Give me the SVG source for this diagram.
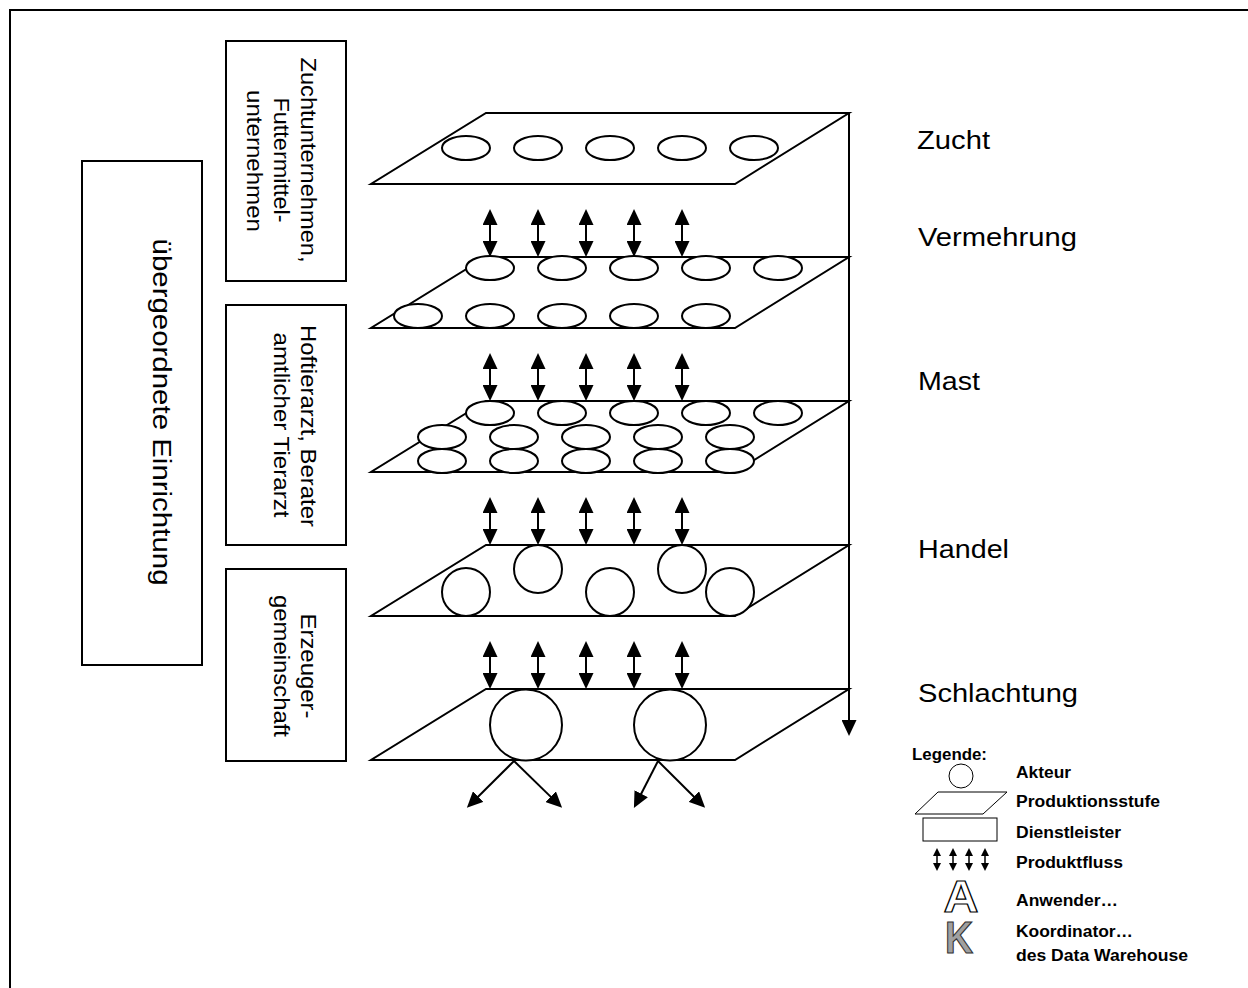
<svg xmlns="http://www.w3.org/2000/svg" width="1248" height="988" viewBox="0 0 1248 988">
<style>
.ln{fill:none;stroke:#000;stroke-width:2}
.pl{fill:#fff;stroke:#000;stroke-width:2;stroke-linejoin:miter}
.ac{fill:#fff;stroke:#000;stroke-width:2}
.box{fill:#fff;stroke:#000;stroke-width:2}
.t{font-family:"Liberation Sans",Arial,sans-serif;fill:#000}
.st{font-size:26px}
.sv{font-size:22px}
.lg{font-size:16px;font-weight:bold}
.lgs{fill:#fff;stroke:#000;stroke-width:1}
.big{font-family:"Liberation Sans",Arial,sans-serif;font-size:44px;font-weight:bold;stroke-width:1.2}
.arr{fill:none;stroke:#000;stroke-width:2;marker-start:url(#ah);marker-end:url(#ah)}
.arr1{fill:none;stroke:#000;stroke-width:2;marker-end:url(#ah)}
.sarr{fill:none;stroke:#000;stroke-width:1.5;marker-start:url(#sh);marker-end:url(#sh)}
</style>
<defs>
<marker id="ah" markerUnits="userSpaceOnUse" markerWidth="16" markerHeight="15" refX="2" refY="7.5" orient="auto-start-reverse" viewBox="0 0 16 15">
<path d="M0,0 L16,7.5 L0,15 z" fill="#000"/>
</marker>
<marker id="sh" markerUnits="userSpaceOnUse" markerWidth="8" markerHeight="8" refX="1" refY="4" orient="auto-start-reverse" viewBox="0 0 8 8">
<path d="M0,0 L8,4 L0,8 z" fill="#000"/>
</marker>
</defs>
<rect x="0" y="0" width="1248" height="988" fill="#fff"/>
<g id="frame"><rect x="10" y="10" width="1260" height="1000" class="ln"/></g>

<g id="uebergeordnete-einrichtung">
<rect x="82" y="161" width="120" height="504" class="box"/>
<text class="t st" transform="translate(153,412) rotate(90)" text-anchor="middle" textLength="347" lengthAdjust="spacingAndGlyphs">übergeordnete Einrichtung</text>
</g>

<g id="dienstleister-zucht">
<rect x="226" y="41" width="120" height="240" class="box"/>
<text class="t sv" transform="translate(301,160) rotate(90)" text-anchor="middle" textLength="205" lengthAdjust="spacingAndGlyphs">Zuchtunternehmen,</text>
<text class="t sv" transform="translate(274,160) rotate(90)" text-anchor="middle" textLength="125" lengthAdjust="spacingAndGlyphs">Futtermittel-</text>
<text class="t sv" transform="translate(247,161) rotate(90)" text-anchor="middle" textLength="142" lengthAdjust="spacingAndGlyphs">unternehmen</text>
</g>

<g id="dienstleister-tierarzt">
<rect x="226" y="305" width="120" height="240" class="box"/>
<text class="t sv" transform="translate(301,426) rotate(90)" text-anchor="middle" textLength="202" lengthAdjust="spacingAndGlyphs">Hoftierarzt, Berater</text>
<text class="t sv" transform="translate(274,425) rotate(90)" text-anchor="middle" textLength="185" lengthAdjust="spacingAndGlyphs">amtlicher Tierarzt</text>
</g>

<g id="dienstleister-erzeuger">
<rect x="226" y="569" width="120" height="192" class="box"/>
<text class="t sv" transform="translate(301,666) rotate(90)" text-anchor="middle" textLength="105" lengthAdjust="spacingAndGlyphs">Erzeuger-</text>
<text class="t sv" transform="translate(274,666) rotate(90)" text-anchor="middle" textLength="142" lengthAdjust="spacingAndGlyphs">gemeinschaft</text>
</g>

<g id="connectors">
<line x1="849" y1="113" x2="849" y2="722" class="arr1"/>
<g>
<line x1="490" y1="223" x2="490" y2="243" class="arr"/>
<line x1="538" y1="223" x2="538" y2="243" class="arr"/>
<line x1="586" y1="223" x2="586" y2="243" class="arr"/>
<line x1="634" y1="223" x2="634" y2="243" class="arr"/>
<line x1="682" y1="223" x2="682" y2="243" class="arr"/>
</g>
<g>
<line x1="490" y1="367" x2="490" y2="387" class="arr"/>
<line x1="538" y1="367" x2="538" y2="387" class="arr"/>
<line x1="586" y1="367" x2="586" y2="387" class="arr"/>
<line x1="634" y1="367" x2="634" y2="387" class="arr"/>
<line x1="682" y1="367" x2="682" y2="387" class="arr"/>
</g>
<g>
<line x1="490" y1="511" x2="490" y2="531" class="arr"/>
<line x1="538" y1="511" x2="538" y2="531" class="arr"/>
<line x1="586" y1="511" x2="586" y2="531" class="arr"/>
<line x1="634" y1="511" x2="634" y2="531" class="arr"/>
<line x1="682" y1="511" x2="682" y2="531" class="arr"/>
</g>
<g>
<line x1="490" y1="655" x2="490" y2="675" class="arr"/>
<line x1="538" y1="655" x2="538" y2="675" class="arr"/>
<line x1="586" y1="655" x2="586" y2="675" class="arr"/>
<line x1="634" y1="655" x2="634" y2="675" class="arr"/>
<line x1="682" y1="655" x2="682" y2="675" class="arr"/>
</g>
<line x1="514" y1="761" x2="476.8" y2="798" class="arr1"/>
<line x1="514" y1="761" x2="552.1" y2="798.1" class="arr1"/>
<line x1="658" y1="761" x2="640.3" y2="795.5" class="arr1"/>
<line x1="658" y1="761" x2="695.2" y2="798" class="arr1"/>
</g>

<g id="stufe-zucht">
<polygon points="486,113 849,113 735,184 371,184" class="pl"/>
<ellipse cx="466" cy="148" rx="24" ry="12" class="ac"/>
<ellipse cx="538" cy="148" rx="24" ry="12" class="ac"/>
<ellipse cx="610" cy="148" rx="24" ry="12" class="ac"/>
<ellipse cx="682" cy="148" rx="24" ry="12" class="ac"/>
<ellipse cx="754" cy="148" rx="24" ry="12" class="ac"/>
</g>

<g id="stufe-vermehrung">
<polygon points="486,257 849,257 735,328 371,328" class="pl"/>
<ellipse cx="490" cy="268" rx="24" ry="12" class="ac"/>
<ellipse cx="562" cy="268" rx="24" ry="12" class="ac"/>
<ellipse cx="634" cy="268" rx="24" ry="12" class="ac"/>
<ellipse cx="706" cy="268" rx="24" ry="12" class="ac"/>
<ellipse cx="778" cy="268" rx="24" ry="12" class="ac"/>
<ellipse cx="418" cy="316" rx="24" ry="12" class="ac"/>
<ellipse cx="490" cy="316" rx="24" ry="12" class="ac"/>
<ellipse cx="562" cy="316" rx="24" ry="12" class="ac"/>
<ellipse cx="634" cy="316" rx="24" ry="12" class="ac"/>
<ellipse cx="706" cy="316" rx="24" ry="12" class="ac"/>
</g>

<g id="stufe-mast">
<polygon points="486,401 849,401 735,472 371,472" class="pl"/>
<ellipse cx="490" cy="413" rx="24" ry="12" class="ac"/>
<ellipse cx="562" cy="413" rx="24" ry="12" class="ac"/>
<ellipse cx="634" cy="413" rx="24" ry="12" class="ac"/>
<ellipse cx="706" cy="413" rx="24" ry="12" class="ac"/>
<ellipse cx="778" cy="413" rx="24" ry="12" class="ac"/>
<ellipse cx="442" cy="437" rx="24" ry="12" class="ac"/>
<ellipse cx="514" cy="437" rx="24" ry="12" class="ac"/>
<ellipse cx="586" cy="437" rx="24" ry="12" class="ac"/>
<ellipse cx="658" cy="437" rx="24" ry="12" class="ac"/>
<ellipse cx="730" cy="437" rx="24" ry="12" class="ac"/>
<ellipse cx="442" cy="461" rx="24" ry="12" class="ac"/>
<ellipse cx="514" cy="461" rx="24" ry="12" class="ac"/>
<ellipse cx="586" cy="461" rx="24" ry="12" class="ac"/>
<ellipse cx="658" cy="461" rx="24" ry="12" class="ac"/>
<ellipse cx="730" cy="461" rx="24" ry="12" class="ac"/>
</g>

<g id="stufe-handel">
<polygon points="486,545 849,545 735,616 371,616" class="pl"/>
<circle cx="466" cy="592" r="24" class="ac"/>
<circle cx="538" cy="569" r="24" class="ac"/>
<circle cx="610" cy="592" r="24" class="ac"/>
<circle cx="682" cy="569" r="24" class="ac"/>
<circle cx="730" cy="592" r="24" class="ac"/>
</g>

<g id="stufe-schlachtung">
<polygon points="486,689 849,689 735,760 371,760" class="pl"/>
<ellipse cx="526" cy="725" rx="36" ry="35.5" class="ac"/>
<ellipse cx="670" cy="725" rx="36" ry="35.5" class="ac"/>
</g>

<g id="labels">
<text class="t st" x="917" y="149" textLength="73" lengthAdjust="spacingAndGlyphs">Zucht</text>
<text class="t st" x="918" y="246" textLength="159" lengthAdjust="spacingAndGlyphs">Vermehrung</text>
<text class="t st" x="918" y="390" textLength="62" lengthAdjust="spacingAndGlyphs">Mast</text>
<text class="t st" x="918" y="558" textLength="91" lengthAdjust="spacingAndGlyphs">Handel</text>
<text class="t st" x="918" y="702" textLength="160" lengthAdjust="spacingAndGlyphs">Schlachtung</text>
</g>

<g id="legende">
<text class="t lg" x="912" y="760" textLength="75" lengthAdjust="spacingAndGlyphs">Legende:</text>
<circle cx="961" cy="776" r="12" class="lgs"/>
<text class="t lg" x="1016" y="778" textLength="55" lengthAdjust="spacingAndGlyphs">Akteur</text>
<polygon points="938,792 1007,792 983,814 915,814" class="lgs"/>
<text class="t lg" x="1016" y="807" textLength="144" lengthAdjust="spacingAndGlyphs">Produktionsstufe</text>
<rect x="923" y="818" width="74" height="23" class="lgs"/>
<text class="t lg" x="1016" y="838" textLength="105" lengthAdjust="spacingAndGlyphs">Dienstleister</text>
<line x1="937" y1="855" x2="937" y2="864" class="sarr"/>
<line x1="953" y1="855" x2="953" y2="864" class="sarr"/>
<line x1="969" y1="855" x2="969" y2="864" class="sarr"/>
<line x1="985" y1="855" x2="985" y2="864" class="sarr"/>
<text class="t lg" x="1016" y="868" textLength="107" lengthAdjust="spacingAndGlyphs">Produktfluss</text>
<text class="big" x="961" y="912" text-anchor="middle" style="fill:#fff;stroke:#000" textLength="35" lengthAdjust="spacingAndGlyphs">A</text>
<text class="t lg" x="1016" y="906" textLength="102" lengthAdjust="spacingAndGlyphs">Anwender…</text>
<text class="big" x="959" y="953" text-anchor="middle" style="fill:#a0a0a0;stroke:#333" textLength="28" lengthAdjust="spacingAndGlyphs">K</text>
<text class="t lg" x="1016" y="937" textLength="117" lengthAdjust="spacingAndGlyphs">Koordinator…</text>
<text class="t lg" x="1016" y="961" textLength="172" lengthAdjust="spacingAndGlyphs">des Data Warehouse</text>
</g>
</svg>
